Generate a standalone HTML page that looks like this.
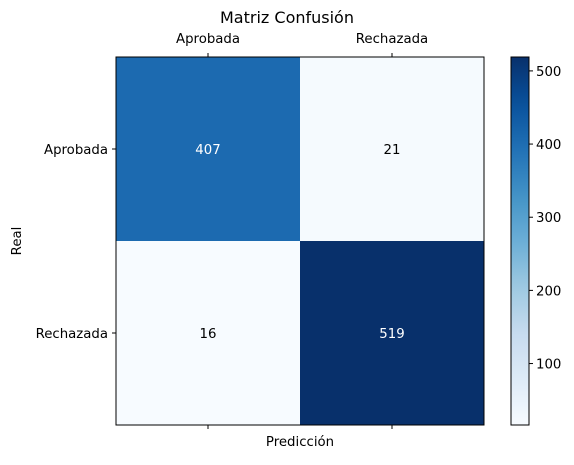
<!DOCTYPE html>
<html><head><meta charset="utf-8"><style>
body{margin:0;background:#fff;}
svg text{font-family:"DejaVu Sans","Liberation Sans",sans-serif;}
</style></head><body>
<svg id="chart" width="574" height="460" xmlns="http://www.w3.org/2000/svg">
<defs><linearGradient id="cbgrad" x1="0" y1="1" x2="0" y2="0"></linearGradient></defs>
<text x="287" y="23" font-size="16" text-anchor="middle">Matriz Confusión</text>
<g id="cells"></g>
<g id="axes"></g>
<text x="300" y="446" font-size="13.3" text-anchor="middle">Predicción</text>
<text transform="translate(21,241) rotate(-90)" font-size="13.3" text-anchor="middle">Real</text>
<g id="cbar"></g>
</svg>
<script>
const categories = ["Aprobada","Rechazada"];
const values = [[407,21],[16,519]];
const cbTicks = [100,200,300,400,500];

const NS="http://www.w3.org/2000/svg";
const L=116,T=57,W=368,H=368,FS=13.3;
const flat=values.flat();
const vmin=Math.min(...flat), vmax=Math.max(...flat);
const stops=[[247,251,255],[222,235,247],[198,219,239],[158,202,225],[107,174,214],[66,146,198],[33,113,181],[8,81,156],[8,48,107]];
function blues(t){t=Math.max(0,Math.min(1,t));const p=t*(stops.length-1);const i=Math.min(Math.floor(p),stops.length-2);const f=p-i;
const c=stops[i].map((v,k)=>Math.round(v+(stops[i+1][k]-v)*f));return `rgb(${c[0]},${c[1]},${c[2]})`;}
function mk(tag,attrs,parent){const e=document.createElementNS(NS,tag);for(const k in attrs)e.setAttribute(k,attrs[k]);parent.appendChild(e);return e;}
const n=categories.length, cw=W/n, ch=H/n;
const xS=j=>L+j*cw, yS=i=>T+i*ch;
const cells=document.getElementById('cells');
values.forEach((row,i)=>row.forEach((v,j)=>{
  const r=mk('rect',{x:xS(j),y:yS(i),width:cw,height:ch,fill:blues((v-vmin)/(vmax-vmin))},cells);
  
  
  const t=mk('text',{x:xS(j)+cw/2,y:yS(i)+ch/2+5,'font-size':FS,'text-anchor':'middle',fill:(v-vmin)/(vmax-vmin)>0.5?'#fff':'#000'},cells);
  t.textContent=v;
  
  
}));
const ax=document.getElementById('axes');
mk('rect',{x:L,y:T,width:W,height:H,fill:'none',stroke:'#000','stroke-width':1},ax);
categories.forEach((c,j)=>{
  const x=xS(j)+cw/2;
  mk('line',{x1:x,y1:T,x2:x,y2:T-4,stroke:'#000'},ax);
  mk('line',{x1:x,y1:T+H,x2:x,y2:T+H+4,stroke:'#000'},ax);
  const t=mk('text',{x:x,y:T-14,'font-size':FS,'text-anchor':'middle'},ax);
  t.textContent=c;
  
  
  const y=yS(j)+ch/2;
  mk('line',{x1:L,y1:y,x2:L-4,y2:y,stroke:'#000'},ax);
  const t2=mk('text',{x:L-8,y:y+5,'font-size':FS,'text-anchor':'end'},ax);
  t2.textContent=c;
  
  
});
const g=document.getElementById('cbgrad');
for(let k=0;k<=20;k++){mk('stop',{offset:k/20,'stop-color':blues(k/20)},g);}
const cb=document.getElementById('cbar');
const CX=511,CW=18;
const cbr=mk('rect',{x:CX,y:T,width:CW,height:H,fill:'url(#cbgrad)',stroke:'#000','stroke-width':1},cb);


const cy=v=>T+H-(v-vmin)/(vmax-vmin)*H;
cbTicks.forEach(v=>{
  const y=cy(v);
  mk('line',{x1:CX+CW,y1:y,x2:CX+CW+4,y2:y,stroke:'#000'},cb);
  const t=mk('text',{x:CX+CW+7,y:y+5,'font-size':FS},cb);
  t.textContent=v;
  
  
});
</script>
</body></html>
